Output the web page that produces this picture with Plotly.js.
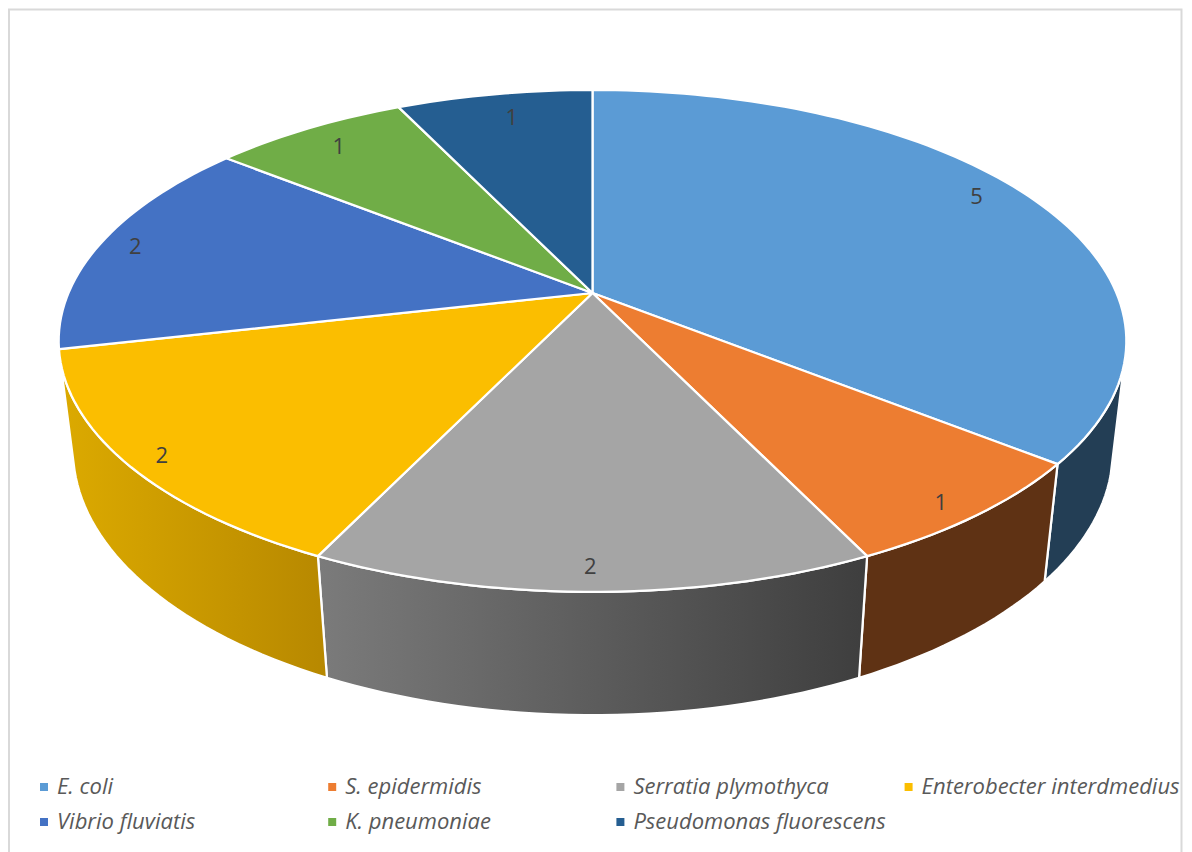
<!DOCTYPE html>
<html>
<head>
<meta charset="utf-8">
<title>Isolated species</title>
<script src="https://cdn.plot.ly/plotly-3.0.1.min.js"></script>
<style>
  html, body { margin: 0; padding: 0; background: #ffffff; overflow: hidden; }
  #chart { width: 1192px; height: 852px; }
</style>
</head>
<body>
<div id="chart"></div>
<script>
// Isolate counts per species
const species = ['E. coli', 'S. epidermidis', 'Serratia plymothyca', 'Enterobecter interdmedius',
                 'Vibrio fluviatis', 'K. pneumoniae', 'Pseudomonas fluorescens'];
const counts = [5, 1, 2, 2, 2, 1, 1];

// Slice colours: top face, then the rim as [left, right] gradient stops
const topColors = ['#5B9BD5', '#ED7D31', '#A5A5A5', '#FBBE00', '#4472C4', '#70AD47', '#255E91'];
const rimColors = [['#233E55', '#233E55'], ['#5F3214', '#5F3214'], ['#7B7B7B', '#3E3E3E'],
                   ['#DCAA00', '#B78800'], null, null, null];

// Count label placement on each wedge: radius fraction and turn from the wedge's mid angle
const labelRadii = [0.90, 0.935, 0.93, 0.943, 0.93, 0.88, 0.86];
const labelTurns = [-2.8, 1.1, 0.3, -0.7, -0.4, -0.1, 0.7];

// Perspective disc: top face and bottom face of the tilted pie
const topFace = { cx: 592.5, cy: 293, a: 524, b: 241.8, k: 0.191 };
const bottomFace = { cx: 593, cy: 401, a: 511, b: 256, k: 0.185 };
// Rim silhouette limits, in degrees clockwise from twelve o'clock
const rimStart = 106, rimEnd = 255;

function project(face, deg, r) {
  const t = deg * Math.PI / 180;
  const u = r * Math.sin(t), w = -r * Math.cos(t);
  const d = 1 - face.k * w;
  return [face.cx + face.a * u / d, face.cy + face.b * w / d];
}

function arc(face, from, to) {
  const steps = Math.max(2, Math.ceil(Math.abs(to - from) / 1.5));
  const pts = [];
  for (let i = 0; i <= steps; i++) pts.push(project(face, from + (to - from) * i / steps, 1));
  return pts;
}

const total = counts.reduce((s, v) => s + v, 0);
const edges = [0];
counts.forEach(v => edges.push(edges[edges.length - 1] + v / total * 360));

const traces = [];

function polygon(pts, extra) {
  return Object.assign({
    x: pts.map(p => p[0]), y: pts.map(p => p[1]),
    type: 'scatter', mode: 'lines', fill: 'toself',
    line: { color: '#ffffff', width: 2.25, simplify: false },
    hoverinfo: 'skip', showlegend: false
  }, extra);
}

// Rim walls go first so the top face overlaps them
counts.forEach((v, i) => {
  const from = Math.max(edges[i], rimStart), to = Math.min(edges[i + 1], rimEnd);
  if (to <= from || !rimColors[i]) return;
  const pts = arc(topFace, from, to).concat(arc(bottomFace, to, from));
  pts.push(pts[0]);
  const [c0, c1] = rimColors[i];
  traces.push(polygon(pts, c0 === c1
    ? { fillcolor: c0 }
    : { fillgradient: { type: 'horizontal', colorscale: [[0, c0], [1, c1]] } }));
});

// Top face wedges
counts.forEach((v, i) => {
  const pts = [[topFace.cx, topFace.cy]].concat(arc(topFace, edges[i], edges[i + 1]));
  pts.push(pts[0]);
  traces.push(polygon(pts, { fillcolor: topColors[i] }));
});

// Count labels on the top face
const labelPts = counts.map((v, i) =>
  project(topFace, (edges[i] + edges[i + 1]) / 2 + labelTurns[i], labelRadii[i]));
traces.push({
  x: labelPts.map(p => p[0] + 1), y: labelPts.map(p => p[1] + 2),
  text: counts.map(String), type: 'scatter', mode: 'text', textposition: 'middle center',
  textfont: { family: '"Open Sans", sans-serif', size: 22, color: '#404040' },
  hoverinfo: 'skip', showlegend: false
});

// Legend: two rows of up to four entries
const legendX = 44, legendStep = 288.2, legendY = 787, legendRow = 35, legendGap = 13;
const legendPos = species.map((s, i) => [legendX + (i % 4) * legendStep, legendY + Math.floor(i / 4) * legendRow]);
traces.push({
  x: legendPos.map(p => p[0]), y: legendPos.map(p => p[1]),
  type: 'scatter', mode: 'markers',
  marker: { symbol: 'square', size: 8, color: topColors },
  hoverinfo: 'skip', showlegend: false
});
traces.push({
  x: legendPos.map(p => p[0] + legendGap), y: legendPos.map(p => p[1] + 1),
  text: species.map(s => '<i>' + s + '</i>'), type: 'scatter', mode: 'text', textposition: 'middle right',
  textfont: { family: '"Open Sans", sans-serif', size: 22, color: '#595959' },
  cliponaxis: false, hoverinfo: 'skip', showlegend: false
});

const layout = {
  width: 1192, height: 852,
  margin: { l: 0, r: 0, t: 0, b: 0 },
  paper_bgcolor: '#ffffff', plot_bgcolor: '#ffffff',
  xaxis: { range: [0, 1192], visible: false, fixedrange: true },
  yaxis: { range: [852, 0], visible: false, fixedrange: true },
  shapes: [{
    type: 'rect', xref: 'x', yref: 'y', x0: 9, x1: 1181.5, y0: 9.5, y1: 900,
    line: { color: '#D9D9D9', width: 2 }, layer: 'below'
  }]
};

Plotly.newPlot('chart', traces, layout, { displayModeBar: false, staticPlot: true });
</script>
</body>
</html>
